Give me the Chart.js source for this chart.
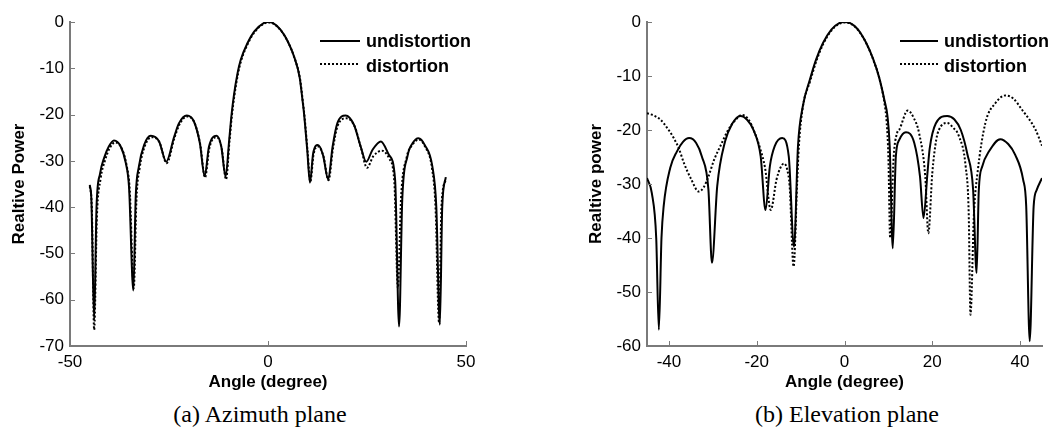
<!DOCTYPE html>
<html><head><meta charset="utf-8">
<script src="https://cdn.jsdelivr.net/npm/chart.js@4/dist/chart.umd.min.js"></script>
<style>
html,body{margin:0;padding:0;background:#fff;width:1056px;height:429px;overflow:hidden}
.box{position:absolute;top:0}
.cap{position:absolute;font-family:"Liberation Serif","Times New Roman",serif;font-size:24px;color:#000;white-space:nowrap;transform:translateX(-50%);line-height:28px}
</style></head><body>
<div class="box" style="left:0;width:490px;height:395px"><canvas id="c1"></canvas></div>
<div class="box" style="left:577px;width:479px;height:395px"><canvas id="c2"></canvas></div>
<div class="cap" style="left:260px;top:400px">(a) Azimuth plane</div>
<div class="cap" style="left:847px;top:400px">(b) Elevation plane</div>
<script>
// ---------- Azimuth plane ----------
const azAngleU = [-45,-44.6,-43.9,-43.3,-42.4,-41.4,-40.2,-38.9,-37.2,-35.9,-35.1,-34.0,-33.4,-32.6,-31.3,-29.6,-27.5,-25.7,-23.7,-22.5,-20.5,-18.7,-17.2,-16.0,-14.9,-13.0,-11.8,-10.7,-9.8,-9.2,-8.6,-7.7,-6.9,-5.2,-3.5,-1.0,0,1.2,3.2,5.0,6.6,8.0,8.7,9.1,9.9,10.6,11.4,12.6,13.9,15.2,16.3,17.5,19.6,21.7,23.4,24.8,26.4,28.5,30.6,32.1,33.1,33.9,35.2,36.5,38.0,39.6,41.5,42.5,43.4,44.0,44.9];
const azPowU = [-35.2,-38.4,-64.4,-39.9,-32.7,-29.4,-26.9,-25.6,-26.9,-30.5,-35.6,-58.0,-37.7,-31.2,-26.6,-24.6,-25.8,-30.2,-24.8,-21.9,-20.2,-21.5,-26.2,-33.3,-26.9,-24.6,-26.9,-33.4,-25.5,-20.0,-15.8,-11.1,-8.2,-4.6,-2.1,-0.2,0,-0.2,-1.7,-4.2,-7.5,-12.0,-16.8,-19.8,-27.6,-34.7,-28.4,-26.6,-28.8,-34.0,-27.0,-21.9,-20.2,-22.2,-26.9,-30.2,-27.6,-25.8,-28.8,-34.1,-65.8,-38.4,-29.1,-26.2,-25.1,-26.6,-31.2,-39.9,-65.4,-39.9,-33.5];
const azAngleD = [-45,-44.5,-43.9,-43.2,-42.3,-41.2,-40.0,-38.6,-37.0,-35.7,-34.9,-33.9,-33.2,-32.4,-31.1,-29.4,-27.4,-25.6,-23.6,-22.4,-20.4,-18.6,-17.1,-15.9,-14.8,-12.9,-11.7,-10.6,-9.7,-9.1,-8.5,-7.6,-6.8,-5.1,-3.4,-0.9,0.2,1.2,3.3,5.1,6.7,8.1,8.8,9.2,10.0,10.7,11.5,12.7,14.0,15.3,16.4,17.6,19.8,21.9,23.5,25.0,26.6,28.8,30.6,31.9,32.8,33.6,35.0,36.5,38.1,39.7,41.4,42.3,43.2,43.8,44.9];
const azPowD = [-35.5,-40,-66.5,-42,-34,-30,-27.3,-26.0,-27.2,-31,-36.5,-57.5,-38,-31.5,-26.8,-24.9,-26,-30.5,-25,-22.2,-20.4,-21.7,-26.5,-33.6,-27.2,-24.9,-27.3,-34,-25.5,-20.1,-16.0,-11.3,-8.4,-4.7,-2.2,-0.3,-0.1,-0.3,-1.9,-4.4,-7.8,-12.3,-17.2,-20.2,-28,-34.5,-28.6,-26.9,-29,-34.2,-27.4,-22.4,-20.8,-22.6,-27.3,-31.5,-29,-27.8,-29.5,-34.5,-57.5,-38,-29.3,-26.5,-25.4,-27,-31.5,-40,-65,-40,-34];
const azXTicks = [-50,0,50];
const azYTicks = [0,-10,-20,-30,-40,-50,-60,-70];

// ---------- Elevation plane ----------
const elAngleU = [-45,-43.9,-42.9,-42.3,-41.7,-41.2,-39.7,-38.2,-36.8,-35.4,-33.8,-32.5,-31.0,-30.2,-29.0,-27.2,-25.7,-23.7,-22.2,-20.8,-19.1,-18.0,-17.0,-15.9,-14.2,-12.7,-11.5,-10.6,-9.5,-7.9,-6.5,-4.9,-3.0,-1.2,0,1.3,3.0,4.9,6.5,7.9,9.1,9.8,10.3,11.0,11.7,12.5,14.0,15.9,17.2,18.0,18.9,19.4,20.8,23.4,25.0,26.5,28.0,29.3,30.1,30.6,31.4,32.9,35.5,37.3,38.9,40.7,41.4,42.2,43.1,43.8,45];
const elPowU = [-28.9,-31.7,-40,-57.0,-40,-34.1,-27.0,-24.0,-22.2,-21.5,-22.4,-24.9,-31.1,-44.6,-30.4,-22.1,-19.0,-17.4,-18.1,-19.9,-24.9,-34.8,-26.7,-23.0,-21.5,-24.9,-41.6,-23.0,-15.6,-10.7,-7.0,-3.9,-1.4,-0.2,0,-0.2,-1.3,-3.8,-6.8,-10.3,-14.5,-17.5,-23,-41.9,-24.9,-21.8,-20.4,-22.4,-28.6,-36.3,-28,-23.5,-18.8,-17.4,-18.0,-20.0,-24.5,-31.0,-46.5,-31.1,-26.7,-24.0,-21.7,-22.6,-24.6,-29.2,-34.1,-59.1,-34.1,-31.1,-28.9];
const elAngleD = [-45,-43.5,-41.9,-40.5,-38.9,-37.7,-36.6,-35.0,-33.2,-32.0,-31.0,-29.7,-28.3,-26.5,-25.0,-23.4,-21.9,-20.4,-19.2,-18.1,-16.8,-15.5,-14.6,-13.8,-13.0,-12.5,-11.6,-10.8,-10.4,-9.5,-7.8,-6.4,-4.8,-2.9,-1.1,0.1,1.4,3.1,5.0,6.6,8.0,9.1,9.6,10.0,10.4,11.2,12.0,12.5,14.4,15.8,17.0,18.4,19.1,20.0,20.9,21.5,23.4,24.8,26.1,27.6,28.3,28.7,29.5,30.3,32.1,34.4,36.7,38.5,40.4,43.5,45];
const elPowD = [-16.9,-17.3,-18.1,-19.5,-21.5,-23.5,-26.1,-29.0,-31.4,-30.5,-28.6,-25.5,-23.0,-20.0,-18.3,-17.2,-18.0,-20.6,-23.5,-27.0,-34.8,-29.2,-27.0,-26.2,-27.5,-30.4,-45.3,-30,-23.0,-15.8,-10.9,-7.2,-4.0,-1.5,-0.3,-0.1,-0.3,-1.5,-4.0,-7.1,-10.6,-15,-18.5,-25,-40.0,-25,-20.5,-19.9,-16.4,-17.8,-20.6,-28.6,-39.1,-28,-21.8,-20,-18.7,-19.6,-21.2,-26.7,-35.4,-54.2,-35.4,-28,-18.7,-15,-13.6,-14.2,-16.2,-19.9,-22.9];
const elXTicks = [-40,-20,0,20,40];
const elYTicks = [0,-10,-20,-30,-40,-50,-60];

const seriesNames = ['undistortion','distortion'];

const F = '"Liberation Sans", Arial, Helvetica, sans-serif';
const AX = '#7a7a7a';

const pts = (xs, ys) => xs.map((v, i) => ({x: v, y: ys[i]}));

const inTicks = {
  id: 'inTicks',
  afterDraw(c) {
    const ctx = c.ctx, xs = c.scales.x, ys = c.scales.y, a = c.chartArea;
    ctx.save();
    ctx.strokeStyle = AX; ctx.lineWidth = 1;
    ctx.beginPath();
    xs.ticks.forEach(t => { const p = Math.round(xs.getPixelForValue(t.value)) + 0.5; ctx.moveTo(p, a.bottom); ctx.lineTo(p, a.bottom - 5); });
    ys.ticks.forEach(t => { const p = Math.round(ys.getPixelForValue(t.value)) + 0.5; ctx.moveTo(a.left, p); ctx.lineTo(a.left + 5, p); });
    ctx.stroke();
    ctx.restore();
  }
};

const myLegend = {
  id: 'myLegend',
  afterDraw(c, args, o) {
    const ctx = c.ctx, a = c.chartArea;
    ctx.save();
    c.data.datasets.forEach((ds, i) => {
      const y = o.top + i * o.gap;
      const x0 = a.right + o.dx;
      ctx.strokeStyle = ds.borderColor; ctx.lineWidth = ds.borderWidth;
      ctx.setLineDash(ds.borderDash || []);
      ctx.beginPath(); ctx.moveTo(x0, y); ctx.lineTo(x0 + o.len, y); ctx.stroke();
      ctx.setLineDash([]);
      ctx.fillStyle = '#000'; ctx.font = 'bold 18px ' + F; ctx.textBaseline = 'middle'; ctx.textAlign = 'left';
      ctx.fillText(ds.label, x0 + o.len + 6, y + 1 + i * 2);
    });
    ctx.restore();
  }
};

function makeChart(id, xs1, ys1, xs2, ys2, xMin, xMax, xT, yMin, yT, yTitle, legOpts, padRight) {
  return new Chart(document.getElementById(id), {
    type: 'line',
    data: {
      datasets: [
        {label: seriesNames[0], data: pts(xs1, ys1), borderColor: '#000', borderWidth: 2, pointRadius: 0, cubicInterpolationMode: 'monotone', fill: false},
        {label: seriesNames[1], data: pts(xs2, ys2), borderColor: '#000', borderWidth: 2, borderDash: [2, 2], pointRadius: 0, cubicInterpolationMode: 'monotone', fill: false}
      ]
    },
    options: {
      responsive: true, maintainAspectRatio: false, animation: false, devicePixelRatio: 1,
      layout: {padding: {left: 0, right: padRight, top: 22, bottom: 0}},
      plugins: {legend: {display: false}, tooltip: {enabled: false}, myLegend: legOpts},
      scales: {
        x: {
          type: 'linear', min: xMin, max: xMax,
          afterBuildTicks: s => { s.ticks = xT.map(v => ({value: v})); },
          afterFit: s => { s.height = 49; },
          grid: {display: true, drawOnChartArea: false, drawTicks: false},
          border: {display: true, color: AX, width: 2},
          ticks: {color: '#000', font: {family: F, size: 17}, padding: 6, maxRotation: 0, autoSkip: false},
          title: {display: true, text: 'Angle (degree)', color: '#000', font: {family: F, size: 17, weight: 'bold'}, padding: {top: 0, bottom: 2}}
        },
        y: {
          type: 'linear', min: yMin, max: 0,
          afterBuildTicks: s => { s.ticks = yT.map(v => ({value: v})); },
          afterFit: s => { s.width = 70; },
          grid: {display: true, drawOnChartArea: false, drawTicks: false},
          border: {display: true, color: AX, width: 2},
          ticks: {color: '#000', font: {family: F, size: 17}, padding: 6, autoSkip: false},
          title: {display: true, text: yTitle, color: '#000', font: {family: F, size: 17, weight: 'bold'}, padding: {top: 9, bottom: 0}}
        }
      }
    },
    plugins: [inTicks, myLegend]
  });
}

makeChart('c1', azAngleU, azPowU, azAngleD, azPowD, -50, 50, azXTicks, -70, azYTicks, 'Realtive Power', {top: 41, gap: 23, dx: -146, len: 40}, 24);
makeChart('c2', elAngleU, elPowU, elAngleD, elPowD, -45, 45, elXTicks, -60, elYTicks, 'Realtive power', {top: 41, gap: 23, dx: -142, len: 38}, 14);
</script>
</body></html>
